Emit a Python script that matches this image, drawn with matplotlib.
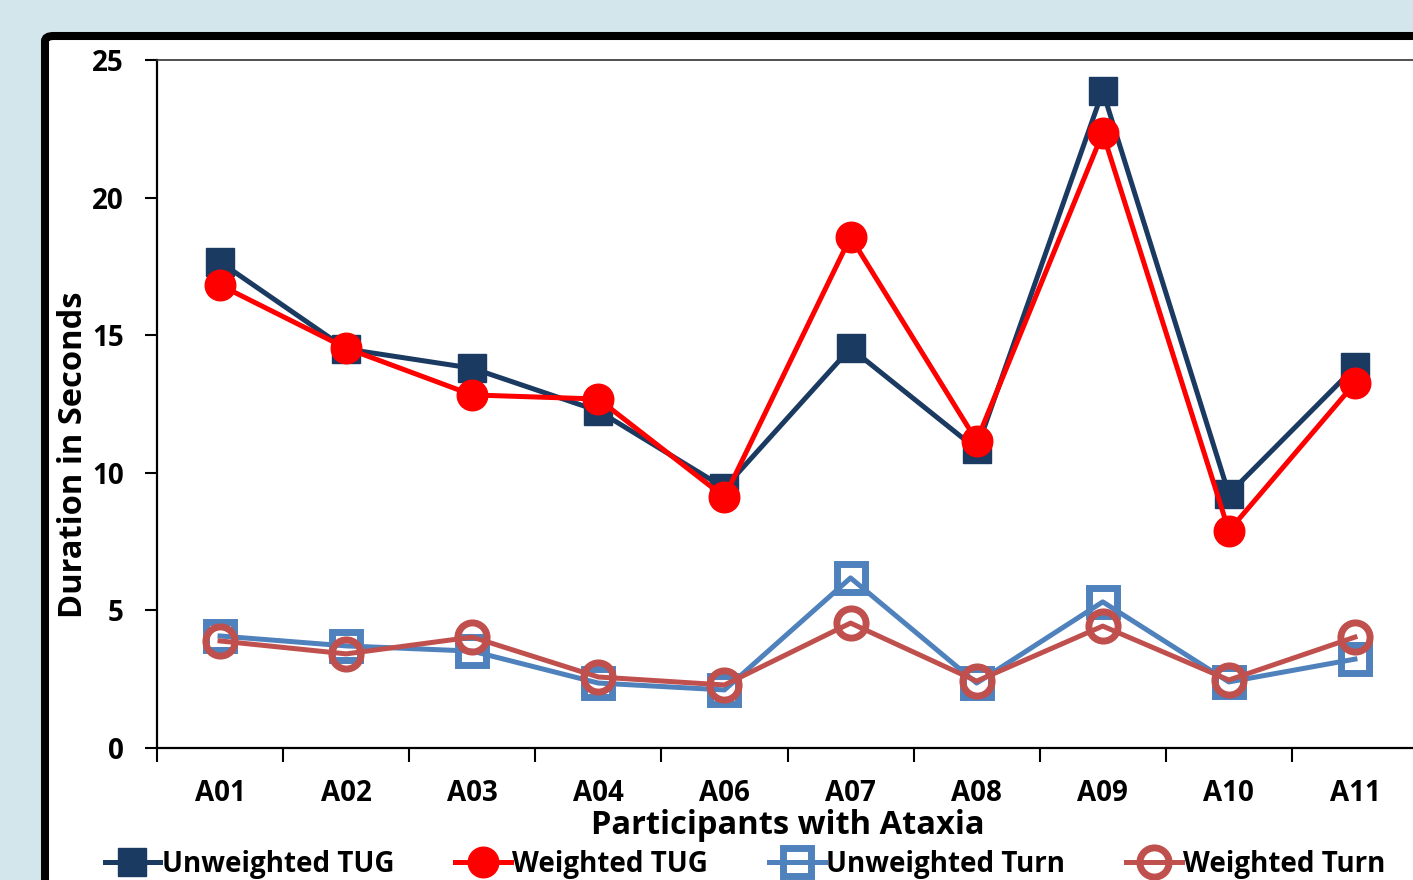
import matplotlib
matplotlib.use("Agg")
import matplotlib.pyplot as plt
from matplotlib.patches import FancyBboxPatch

participants = ["A01", "A02", "A03", "A04", "A06", "A07", "A08", "A09", "A10", "A11"]

unweighted_tug = [17.66, 14.50, 13.80, 12.25, 9.45, 14.53, 10.86, 23.87, 9.23, 13.84]
weighted_tug = [16.82, 14.53, 12.83, 12.68, 9.12, 18.57, 11.16, 22.35, 7.89, 13.26]
unweighted_turn = [4.07, 3.71, 3.52, 2.36, 2.11, 6.18, 2.36, 5.31, 2.40, 3.23]
weighted_turn = [3.89, 3.42, 4.03, 2.58, 2.29, 4.54, 2.43, 4.43, 2.47, 4.03]

FONT = "Open Sans"
plt.rcParams["font.family"] = [FONT, "DejaVu Sans"]
plt.rcParams["font.weight"] = "bold"

fig = plt.figure(figsize=(14.13, 8.8), dpi=100)
fig.patch.set_facecolor("#D3E6EC")

# white chart panel with thick black frame, running off the right/bottom edge
panel = FancyBboxPatch((45 / 1413, -0.2), 1.2, 1 - 36 / 880 + 0.2,
                       boxstyle="round,pad=0,rounding_size=0.006",
                       transform=fig.transFigure, facecolor="white",
                       edgecolor="black", linewidth=5.8, zorder=-5)
fig.patches.append(panel)

ax = fig.add_axes([157 / 1413, 1 - 748 / 880, 1261 / 1413, 688 / 880])
ax.set_facecolor("none")
ax.set_zorder(2)

x = list(range(len(participants)))

ax.plot(x, unweighted_tug, color="#1B3A61", lw=3.6, marker="s", ms=20,
        label="Unweighted TUG", zorder=3)
ax.plot(x, weighted_tug, color="#FF0000", lw=3.6, marker="o", ms=22,
        label="Weighted TUG", zorder=4)
ax.plot(x, unweighted_turn, color="#4F81BD", lw=3.6, marker="s", ms=20,
        mfc="none", mew=5, label="Unweighted Turn", zorder=5)
ax.plot(x, weighted_turn, color="#C0504D", lw=3.6, marker="o", ms=21,
        mfc="none", mew=5, label="Weighted Turn", zorder=6)

ax.set_xlim(-0.5, len(participants) - 0.5)
ax.set_ylim(0, 25)
ax.set_yticks([0, 5, 10, 15, 20, 25])
ax.set_xticks(x)
ax.set_xticklabels(participants)
ax.set_xticks([i - 0.5 for i in range(len(participants) + 1)], minor=True)

ax.tick_params(axis="x", which="major", length=0, pad=22, labelsize=20)
ax.tick_params(axis="x", which="minor", length=10, width=1.5, direction="out")
ax.tick_params(axis="y", length=9, width=1.5, direction="out", pad=15, labelsize=20)
for lbl in ax.get_xticklabels() + ax.get_yticklabels():
    lbl.set_fontweight("bold")

for side in ["left", "bottom"]:
    ax.spines[side].set_linewidth(1.6)
ax.spines["top"].set_linewidth(1.2)
ax.spines["top"].set_color("#333333")
ax.spines["right"].set_visible(False)

ax.set_xlabel("Participants with Ataxia", fontsize=23.5, fontweight="bold", labelpad=1)
ax.set_ylabel("Duration in Seconds", fontsize=23.5, fontweight="bold")
ax.yaxis.set_label_coords(-0.053, 0.426)

fig.legend(loc="center", bbox_to_anchor=(745 / 1413, 1 - 864 / 880), ncol=4,
           frameon=False, prop={"family": FONT, "weight": "bold", "size": 20},
           handlelength=2.0, handletextpad=0.05, columnspacing=2.2,
           borderaxespad=0, borderpad=0)

fig.savefig("out.png", dpi=100, facecolor=fig.get_facecolor())
